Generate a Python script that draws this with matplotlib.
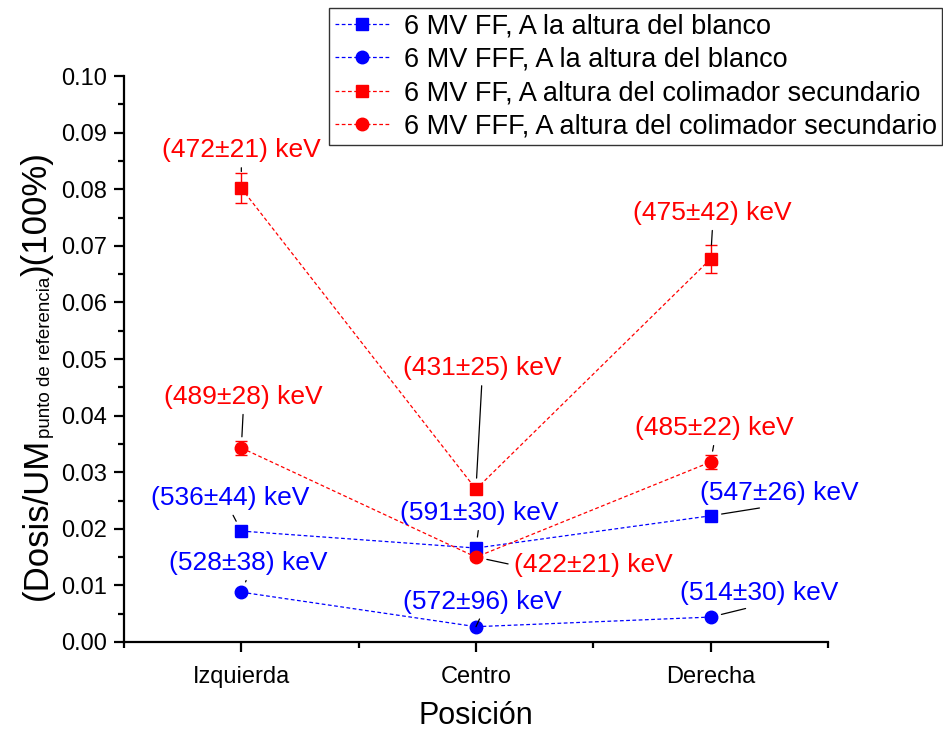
import matplotlib
matplotlib.use("Agg")
import matplotlib.pyplot as plt
from matplotlib.ticker import MultipleLocator, FormatStrFormatter

plt.rcParams['font.family'] = ['Liberation Sans', 'DejaVu Sans']

# datos
posiciones = ['Izquierda', 'Centro', 'Derecha']

ff_blanco = [0.0196, 0.0166, 0.0223]
ff_blanco_err = [0.0003, 0.0003, 0.0003]
fff_blanco = [0.0088, 0.0027, 0.0044]
fff_blanco_err = [0.0003, 0.0003, 0.0003]
ff_colimador = [0.0802, 0.0270, 0.0677]
ff_colimador_err = [0.0027, 0.0005, 0.0024]
fff_colimador = [0.0343, 0.0150, 0.0318]
fff_colimador_err = [0.0012, 0.0005, 0.0012]

energia_ff_blanco = ['(536±44) keV', '(591±30) keV', '(547±26) keV']
energia_fff_blanco = ['(528±38) keV', '(572±96) keV', '(514±30) keV']
energia_ff_colimador = ['(472±21) keV', '(431±25) keV', '(475±42) keV']
energia_fff_colimador = ['(489±28) keV', '(422±21) keV', '(485±22) keV']

series = [
    ('6 MV FF, A la altura del blanco', ff_blanco, ff_blanco_err, energia_ff_blanco, 's', '#0000FF'),
    ('6 MV FFF, A la altura del blanco', fff_blanco, fff_blanco_err, energia_fff_blanco, 'o', '#0000FF'),
    ('6 MV FF, A altura del colimador secundario', ff_colimador, ff_colimador_err, energia_ff_colimador, 's', '#FF0000'),
    ('6 MV FFF, A altura del colimador secundario', fff_colimador, fff_colimador_err, energia_fff_colimador, 'o', '#FF0000'),
]

# desplazamiento de cada etiqueta (pixeles) y punto de anclaje de la linea guia
desplazamientos = [
    [(-11, 33), (3, 35), (69, 23)],
    [(7, 29), (6, 25), (49, 24)],
    [(0, 38), (6, 121), (2, 46)],
    [(2, 51), (117, -8), (4, 34)],
]
anclajes = [
    [(0.5, 0), (0.5, 0), (0.5, 0)],
    [(0.5, 0), (0.5, 0), (0.5, 0)],
    [(0.5, 0), (0.5, 0), (0.5, 0)],
    [(0.5, 0), (0, 0.5), (0.5, 0)],
]
separacion = [
    [8, 8, 8],
    [8, 8, 8],
    [12, 8, 10],
    [8, 8, 8],
]

fig = plt.figure(figsize=(9.43, 7.31), dpi=100)
ax = fig.add_axes([0.1315, 0.1218, 0.7465, 0.774])

x = [1, 2, 3]
for i, (nombre, y, err, etiquetas, marca, color) in enumerate(series):
    ax.errorbar(x, y, yerr=err, fmt='none', ecolor=color, elinewidth=1,
                capsize=4.5, capthick=1, zorder=3)
    ax.plot(x, y, color=color, marker=marca, markersize=9,
            linestyle=(0, (3, 2)), linewidth=0.9, label=nombre, zorder=3)
    for j in range(3):
        ax.annotate(etiquetas[j], xy=(x[j], y[j]), xytext=desplazamientos[i][j],
                    textcoords='offset pixels', ha='center', va='center',
                    fontsize=19, color=color,
                    arrowprops=dict(arrowstyle='-', color='black', lw=0.9,
                                    relpos=anclajes[i][j], shrinkA=2,
                                    shrinkB=separacion[i][j]),
                    zorder=4)

ax.set_xlim(0.5, 3.5)
ax.set_ylim(0, 0.10)
ax.set_xticks(x)
ax.set_xticklabels(posiciones)
ax.xaxis.set_minor_locator(MultipleLocator(0.5))
ax.yaxis.set_major_locator(MultipleLocator(0.01))
ax.yaxis.set_minor_locator(MultipleLocator(0.005))
ax.yaxis.set_major_formatter(FormatStrFormatter('%.2f'))

for lado in ['top', 'right']:
    ax.spines[lado].set_visible(False)
for lado in ['left', 'bottom']:
    ax.spines[lado].set_linewidth(1.6)
ax.tick_params(which='major', direction='out', length=7, width=1.6, labelsize=17, pad=5)
ax.tick_params(which='minor', direction='out', length=4, width=1.6)
ax.tick_params(axis='x', which='major', pad=10)

ax.set_xlabel('Posición', fontsize=22)
ax.xaxis.set_label_coords(0.5, -0.105)

leyenda = fig.legend(loc='upper right', bbox_to_anchor=(0.999, 0.989), fontsize=19.5,
                     frameon=True, fancybox=False, edgecolor='black',
                     handlelength=2.0, labelspacing=0.27, borderpad=0.2,
                     handletextpad=0.55, borderaxespad=0)
leyenda.get_frame().set_linewidth(1)

# etiqueta del eje y con subindice, armada por piezas
fig.canvas.draw()
renderer = fig.canvas.get_renderer()
W, H = fig.bbox.width, fig.bbox.height
piezas = [('(Dosis/UM', 25, 47), ('punto de referencia', 13.5, 50), (')(100%)', 25, 47)]
ypos = 131
for texto, tam, xb in piezas:
    t = fig.text(xb / W, ypos / H, texto, rotation=90, rotation_mode='anchor',
                 ha='left', va='baseline', fontsize=tam)
    ypos += t.get_window_extent(renderer).height

fig.savefig('out.png', dpi=100)
